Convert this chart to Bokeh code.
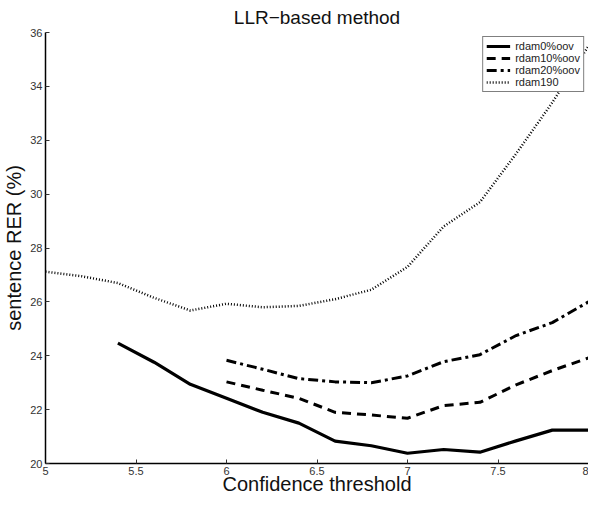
from bokeh.plotting import figure
from bokeh.models import Legend, LegendItem, FixedTicker
from bokeh.embed import file_html
from bokeh.resources import INLINE

# ---- data ----
x_oov0 = [5.4, 5.6, 5.8, 6.0, 6.2, 6.4, 6.6, 6.8, 7.0, 7.2, 7.4, 7.6, 7.8, 8.0]
y_oov0 = [24.47, 23.76, 22.94, 22.42, 21.9, 21.5, 20.83, 20.66, 20.38, 20.52, 20.42, 20.84, 21.24, 21.24]

x_oov10 = [6.0, 6.2, 6.4, 6.6, 6.8, 7.0, 7.2, 7.4, 7.6, 7.8, 8.0]
y_oov10 = [23.03, 22.72, 22.42, 21.9, 21.8, 21.68, 22.15, 22.27, 22.92, 23.45, 23.92]

x_oov20 = [6.0, 6.2, 6.4, 6.6, 6.8, 7.0, 7.2, 7.4, 7.6, 7.8, 8.0]
y_oov20 = [23.83, 23.5, 23.15, 23.03, 23.0, 23.25, 23.78, 24.04, 24.75, 25.23, 26.0]

x_190 = [5.0, 5.2, 5.4, 5.6, 5.8, 6.0, 6.2, 6.4, 6.6, 6.8, 7.0, 7.2, 7.4, 7.6, 7.8, 8.0]
y_190 = [27.12, 26.95, 26.7, 26.15, 25.68, 25.93, 25.8, 25.85, 26.1, 26.45, 27.3, 28.8, 29.7, 31.5, 33.4, 35.5]

series_labels = ["rdam0%oov", "rdam10%oov", "rdam20%oov", "rdam190"]

x_ticks = [5, 5.5, 6, 6.5, 7, 7.5, 8]
x_tick_labels = ["5", "5.5", "6", "6.5", "7", "7.5", "8"]
y_ticks = [20, 22, 24, 26, 28, 30, 32, 34, 36]

title_text = "LLR\u2212based method"
x_label = "Confidence threshold"
y_label = "sentence RER (%)"

# ---- figure ----
FONT = "Liberation Sans"
p = figure(width=588, height=497, x_range=(5, 8), y_range=(20, 36),
           output_backend="svg", toolbar_location=None, title=title_text,
           min_border_left=0, min_border_right=0, min_border_top=0,
           min_border_bottom=0)
p.title.align = "center"
p.title.text_font = FONT
p.title.text_font_style = "normal"
p.title.text_font_size = "19px"
p.title.text_color = "#111111"
p.title.offset = 0
p.title.standoff = 9

p.outline_line_color = None
p.xgrid.visible = False
p.ygrid.visible = False

for ax in (p.xaxis[0], p.yaxis[0]):
    ax.major_tick_in = 4
    ax.major_tick_out = 0
    ax.minor_tick_line_color = None
    ax.axis_line_color = "black"
    ax.axis_line_width = 1.5
    ax.major_tick_line_color = "#333333"
    ax.major_label_text_font = FONT
    ax.major_label_text_font_size = "11px"
    ax.major_label_text_color = "#333333"
    ax.axis_label_text_font = FONT
    ax.axis_label_text_font_style = "normal"
    ax.axis_label_text_font_size = "20px"
    ax.axis_label_text_color = "#111111"

p.xaxis.ticker = FixedTicker(ticks=x_ticks)
p.xaxis.major_label_overrides = {t: l for t, l in zip(x_ticks, x_tick_labels)}
p.yaxis.ticker = FixedTicker(ticks=y_ticks)
p.xaxis.axis_label = x_label
p.yaxis.axis_label = y_label
p.xaxis.major_label_standoff = 3
p.xaxis.axis_label_standoff = -5
p.yaxis.major_label_standoff = 3
p.yaxis.axis_label_standoff = 2

r0 = p.line(x_oov0, y_oov0, line_color="black", line_width=3.2)
r1 = p.line(x_oov10, y_oov10, line_color="black", line_width=3, line_dash="9 6")
r2 = p.line(x_oov20, y_oov20, line_color="black", line_width=3, line_dash="10 4 3 4")
r3 = p.line(x_190, y_190, line_color="black", line_width=2.5, line_dash="1 2")

legend = Legend(items=[LegendItem(label=l, renderers=[r]) for l, r in
                       zip(series_labels, [r0, r1, r2, r3])],
                location="top_right")
legend.label_text_font = FONT
legend.label_text_font_size = "11px"
legend.label_text_color = "#222222"
legend.label_height = 12
legend.glyph_height = 12
legend.glyph_width = 24
legend.spacing = 0
legend.padding = 3
legend.margin = 4
legend.label_standoff = 5
legend.border_line_color = "black"
legend.border_line_width = 1
legend.background_fill_color = "white"
legend.background_fill_alpha = 1
p.add_layout(legend)

open("out.html", "w").write(file_html(p, INLINE))
